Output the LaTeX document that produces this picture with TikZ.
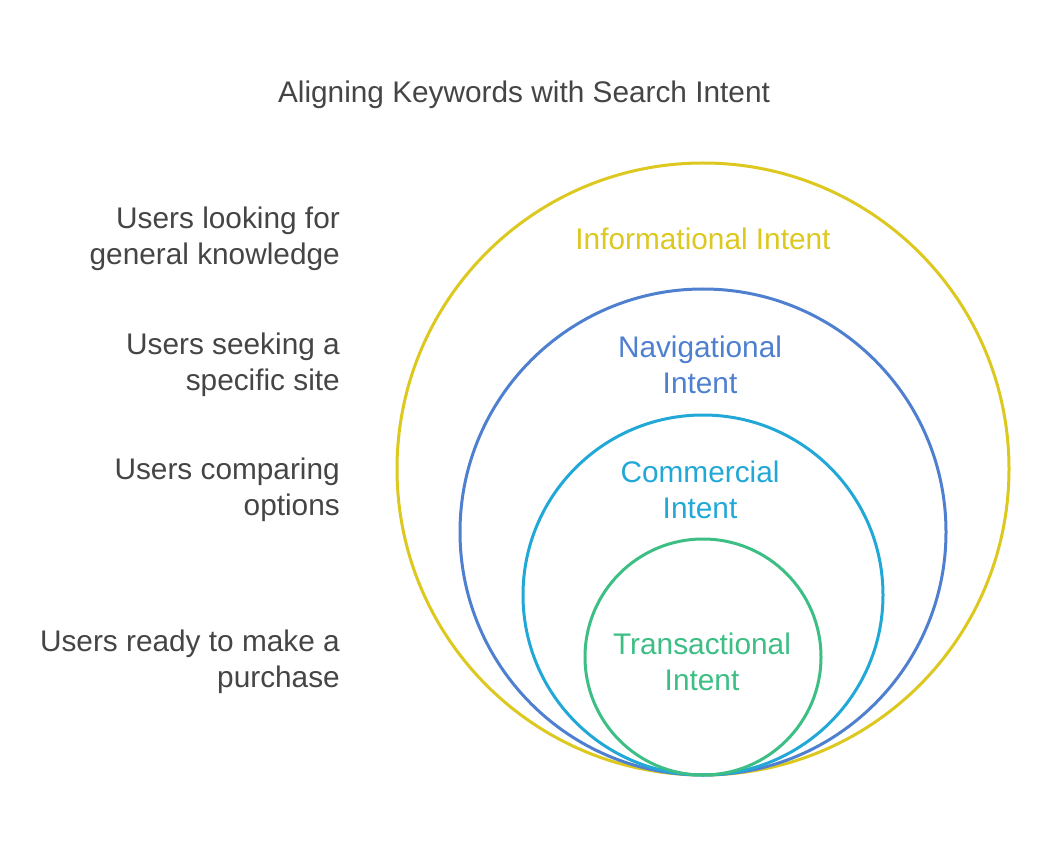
\documentclass[tikz,border=0pt]{standalone}
\usepackage{fontspec}
\setmainfont{Liberation Sans}
\definecolor{cyel}{HTML}{DCC81E}
\definecolor{cblu}{HTML}{4F80CF}
\definecolor{ccya}{HTML}{22A8D6}
\definecolor{cgrn}{HTML}{3CBE84}
\definecolor{ctxt}{HTML}{454545}
\begin{document}
\begin{tikzpicture}[x=1pt,y=-1pt,
  ring/.style={line width=3pt},
  lbl/.style={font=\fontsize{29.8}{36}\selectfont, align=center, inner sep=0pt},
  side/.style={font=\fontsize{29.8}{36}\selectfont, text=ctxt, align=right, anchor=east, inner sep=0pt}]
\useasboundingbox (0,0) rectangle (1047,850);
\node[font=\fontsize{29.8}{36}\selectfont, text=ctxt, inner sep=0pt] (title) at (524,95) {Aligning Keywords with Search Intent};
\draw[ring, cyel] (703,469) circle[radius=306];
\draw[ring, cblu] (703,532) circle[radius=243];
\draw[ring, ccya] (703,595) circle[radius=180];
\draw[ring, cgrn] (703,657) circle[radius=118];
\node[lbl, text=cyel] (inf) at (703,239) {Informational Intent};
\node[lbl, text=cblu] (nav) at (700,365) {Navigational\\Intent};
\node[lbl, text=ccya] (com) at (700,490) {Commercial\\Intent};
\node[lbl, text=cgrn] (tra) at (702,662) {Transactional\\Intent};
\node[side] (s1) at (340,239) {Users looking for\\general knowledge};
\node[side] (s2) at (340,365) {Users seeking a\\specific site};
\node[side] (s3) at (340,490) {Users comparing\\options};
\node[side] (s4) at (340,662) {Users ready to make a\\purchase};
\end{tikzpicture}
\end{document}
